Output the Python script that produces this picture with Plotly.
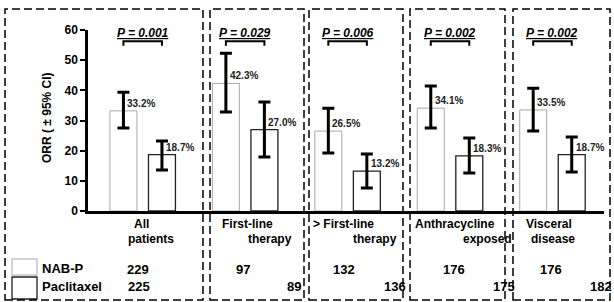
import plotly.graph_objects as go

# ---------------- data ----------------
groups = ["All patients", "First-line therapy", "> First-line therapy",
          "Anthracycline exposed", "Visceral disease"]
cat_line1 = ["All", "First-line", "> First-line", "Anthracycline", "Visceral"]
cat_line2 = ["patients", "therapy", "therapy", "exposed", "disease"]
nab_orr = [33.2, 42.3, 26.5, 34.1, 33.5]
pac_orr = [18.7, 27.0, 13.2, 18.3, 18.7]
nab_lo = [27.5, 32.8, 19.2, 27.5, 26.5]
nab_hi = [39.4, 52.3, 34.1, 41.4, 40.7]
pac_lo = [13.6, 17.9, 7.6, 12.6, 12.9]
pac_hi = [23.2, 36.1, 18.9, 24.2, 24.5]
p_values = ["0.001", "0.029", "0.006", "0.002", "0.002"]
n_nab = [229, 97, 132, 176, 176]
n_pac = [225, 89, 136, 175, 182]
series_names = ["NAB-P", "Paclitaxel"]
y_ticks = [0, 10, 20, 30, 40, 50, 60]

# ---------------- layout helpers ----------------
W, H = 614, 302
ML, MR, MT, MB = 88, 10, 30, 91
PW, PH = W - ML - MR, H - MT - MB
FONT = "Liberation Sans, Arial, sans-serif"
BARGAP, BGG = 0.248, 0.30
OFF = (1 - BARGAP) / 4  # bar centre offset from group centre


def px(x):
    return (x - ML) / PW


def py(y):
    return (H - MB - y) / PH


xs = list(range(len(groups)))

fig = go.Figure()
fig.add_trace(go.Bar(
    x=xs, y=nab_orr, name=series_names[0],
    marker=dict(color="white", line=dict(color="#a8a8a8", width=1)),
    error_y=dict(type="data", symmetric=False,
                 array=[h - v for h, v in zip(nab_hi, nab_orr)],
                 arrayminus=[v - l for v, l in zip(nab_orr, nab_lo)],
                 thickness=3, width=6, color="black"),
))
fig.add_trace(go.Bar(
    x=xs, y=pac_orr, name=series_names[1],
    marker=dict(color="white", line=dict(color="#202020", width=1.3)),
    error_y=dict(type="data", symmetric=False,
                 array=[h - v for h, v in zip(pac_hi, pac_orr)],
                 arrayminus=[v - l for v, l in zip(pac_orr, pac_lo)],
                 thickness=3, width=6, color="black"),
))

shapes = []
annotations = []

# value labels
for i in xs:
    for off, v in ((-OFF, nab_orr[i]), (OFF, pac_orr[i])):
        annotations.append(dict(x=i + off, y=v + 2.5, xref="x", yref="y",
                                text=f"{v:.1f}%", showarrow=False,
                                xanchor="left", yanchor="middle", xshift=2,
                                font=dict(family=FONT, size=10, color="#222", weight="bold")))
    # p-value brackets
    shapes.append(dict(type="path", xref="x", yref="y",
                       path=f"M {i-OFF},54.8 L {i-OFF},56.3 L {i+OFF},56.3 L {i+OFF},54.8",
                       line=dict(color="black", width=2)))
    annotations.append(dict(x=i, y=59, xref="x", yref="y",
                            text=f"<i><u>P = {p_values[i]}</u></i>", showarrow=False,
                            xanchor="center", yanchor="middle",
                            font=dict(family=FONT, size=12, color="black", weight="bold")))

# category labels (two lines, staggered like the original)
line1_px = [141.5, 247, 343, 454.5, 549]
line2_px = [150.5, 270, 375, 487, 553]
for i in xs:
    annotations.append(dict(x=px(line1_px[i]), y=py(224), xref="paper", yref="paper",
                            text=cat_line1[i], showarrow=False, xanchor="center", yanchor="middle",
                            font=dict(family=FONT, size=12, color="black", weight="bold")))
    annotations.append(dict(x=px(line2_px[i]), y=py(239), xref="paper", yref="paper",
                            text=cat_line2[i], showarrow=False, xanchor="center", yanchor="middle",
                            font=dict(family=FONT, size=12, color="black", weight="bold")))

# n rows
n1_px = [137.5, 242.5, 344, 453.5, 551]
n2_px = [139, 293.5, 395, 504, 601]
for i in xs:
    annotations.append(dict(x=px(n1_px[i]), y=py(269), xref="paper", yref="paper",
                            text=str(n_nab[i]), showarrow=False, xanchor="center", yanchor="middle",
                            font=dict(family=FONT, size=13, color="black", weight="bold")))
    annotations.append(dict(x=px(n2_px[i]), y=py(286), xref="paper", yref="paper",
                            text=str(n_pac[i]), showarrow=False, xanchor="center", yanchor="middle",
                            font=dict(family=FONT, size=13, color="black", weight="bold")))

# legend
shapes.append(dict(type="rect", xref="paper", yref="paper", x0=px(12), x1=px(37), y0=py(259), y1=py(275),
                   line=dict(color="#a8a8a8", width=1), fillcolor="white"))
shapes.append(dict(type="rect", xref="paper", yref="paper", x0=px(12), x1=px(37), y0=py(277), y1=py(299),
                   line=dict(color="#202020", width=1.3), fillcolor="white"))
for name, yy in zip(series_names, (268, 286)):
    annotations.append(dict(x=px(40), y=py(yy), xref="paper", yref="paper",
                            text=name, showarrow=False, xanchor="left", yanchor="middle",
                            font=dict(family=FONT, size=13, color="black", weight="bold")))

# y-axis title
annotations.append(dict(x=px(47), y=py(118), xref="paper", yref="paper",
                        text="ORR ( ± 95% CI)", textangle=-90, showarrow=False,
                        xanchor="center", yanchor="middle",
                        font=dict(family=FONT, size=12, color="black", weight="bold")))

# dashed boxes
boxes = [(5, 203), (210, 304), (309, 403), (410, 505), (513, 610)]
for x0, x1 in boxes:
    shapes.append(dict(type="rect", xref="paper", yref="paper",
                       x0=px(x0), x1=px(x1), y0=py(300), y1=py(9),
                       line=dict(color="black", width=1.5, dash="8px,4px")))

fig.update_layout(
    width=W, height=H,
    margin=dict(l=ML, r=MR, t=MT, b=MB),
    paper_bgcolor="white", plot_bgcolor="white",
    barmode="group", bargap=BARGAP, bargroupgap=BGG,
    showlegend=False,
    font=dict(family=FONT, size=12, color="black"),
    shapes=shapes, annotations=annotations,
    xaxis=dict(range=[-0.534, 4.503], showticklabels=False, ticks="",
               showgrid=False, zeroline=False, showline=True,
               linecolor="black", linewidth=2.5),
    yaxis=dict(range=[0, 60], tickvals=y_ticks, ticks="outside", ticklen=5,
               tickwidth=2, tickcolor="black", showgrid=False, zeroline=False,
               showline=True, linecolor="black", linewidth=2.5,
               tickfont=dict(family=FONT, size=12, color="black", weight="bold")),
)

fig.write_html("out.html",
               config={"displayModeBar": False},
               post_script="document.body.style.margin='0';document.body.style.overflow='hidden';")
